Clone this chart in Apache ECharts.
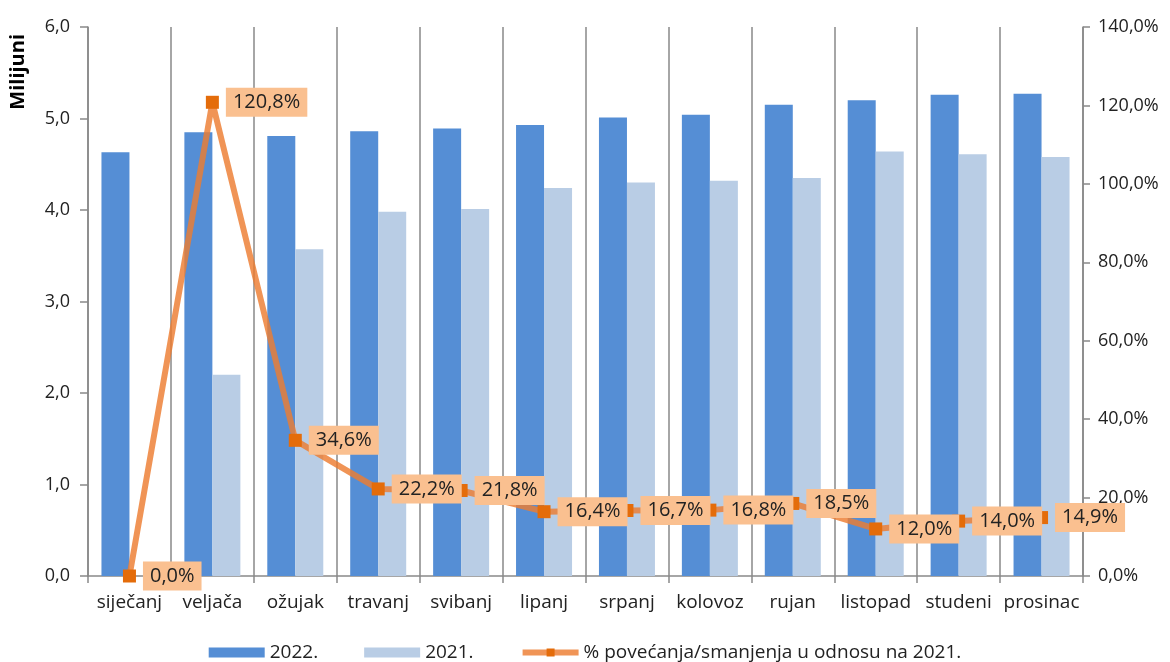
<!DOCTYPE html>
<html><head><meta charset="utf-8">
<script src="https://cdn.jsdelivr.net/npm/echarts@6/dist/echarts.min.js"></script>
<style>html,body{margin:0;padding:0;background:#fff}#c{width:1170px;height:662px}</style>
</head><body><div id="c"></div>
<script>
const categories = ['siječanj','veljača','ožujak','travanj','svibanj','lipanj','srpanj','kolovoz','rujan','listopad','studeni','prosinac'];
const values2022 = [4.63, 4.85, 4.81, 4.86, 4.89, 4.93, 5.01, 5.04, 5.15, 5.20, 5.26, 5.27];
const values2021 = [0, 2.20, 3.57, 3.98, 4.01, 4.24, 4.30, 4.32, 4.35, 4.64, 4.61, 4.58];
const pctChange = [0.0, 120.8, 34.6, 22.2, 21.8, 16.4, 16.7, 16.8, 18.5, 12.0, 14.0, 14.9];
const seriesNames = ['2022.', '2021.', '% povećanja/smanjenja u odnosu na 2021.'];
const axisTitle = 'Milijuni';

const FONT = 'Open Sans';
const grey = '#898989';
const chart = echarts.init(document.getElementById('c'));
chart.setOption({
  animation: false,
  textStyle: {fontFamily: FONT},
  grid: {left: 88, right: 87, top: 27, bottom: 86, containLabel: false},
  graphic: [{type: 'text', left: 8, top: 34, rotation: Math.PI/2,
    style: {text: axisTitle, font: 'bold 20px ' + FONT, fill: '#000'}}],
  legend: {
    top: 638, left: 'center', itemWidth: 56, itemHeight: 10, itemGap: 46,
    textStyle: {fontSize: 19, color: '#222', fontFamily: FONT},
    data: [
      {name: seriesNames[0], icon: 'rect'},
      {name: seriesNames[1], icon: 'rect'},
      {name: seriesNames[2], lineStyle: {width: 6, color: 'rgba(237,125,49,0.82)'}, itemStyle: {color: '#e46c0a'}}
    ]
  },
  xAxis: {
    type: 'category', data: categories, boundaryGap: true,
    axisLine: {lineStyle: {color: grey, width: 1.5}},
    axisTick: {show: true, length: 7, lineStyle: {color: grey, width: 1.5}},
    splitLine: {show: true, lineStyle: {color: grey, width: 1.5}},
    axisLabel: {fontSize: 19, color: '#222', margin: 17, interval: 0}
  },
  yAxis: [
    {type: 'value', min: 0, max: 6, interval: 1, position: 'left',
     axisLine: {show: true, lineStyle: {color: grey, width: 1.5}},
     axisTick: {show: true, length: 8, lineStyle: {color: grey, width: 1.5}},
     splitLine: {show: false},
     axisLabel: {fontSize: 18, color: '#222', margin: 18, formatter: v => v.toFixed(1).replace('.', ',')}},
    {type: 'value', min: 0, max: 140, interval: 20, position: 'right',
     axisLine: {show: true, lineStyle: {color: grey, width: 1.5}},
     axisTick: {show: true, length: 7, lineStyle: {color: grey, width: 1.5}},
     splitLine: {show: false},
     axisLabel: {fontSize: 18, color: '#222', margin: 15, formatter: v => v.toFixed(1).replace('.', ',') + '%'}}
  ],
  series: [
    {name: seriesNames[0], type: 'bar', data: values2022, barWidth: 28, barGap: '0%',
     itemStyle: {color: '#558ed5'}, z: 2},
    {name: seriesNames[1], type: 'bar', data: values2021, barWidth: 28,
     itemStyle: {color: '#b9cde5'}, z: 2},
    {name: seriesNames[2], type: 'line', yAxisIndex: 1, data: pctChange,
     symbol: 'rect', symbolSize: 13,
     lineStyle: {color: 'rgba(237,125,49,0.82)', width: 6},
     itemStyle: {color: '#e46c0a'},
     label: {show: true, position: 'right', distance: 7,
       formatter: p => p.value.toFixed(1).replace('.', ',') + '%',
       backgroundColor: '#fac090', padding: [5, 7, 4, 7], fontSize: 20, color: '#222', fontFamily: FONT},
     z: 5}
  ]
});
</script></body></html>
